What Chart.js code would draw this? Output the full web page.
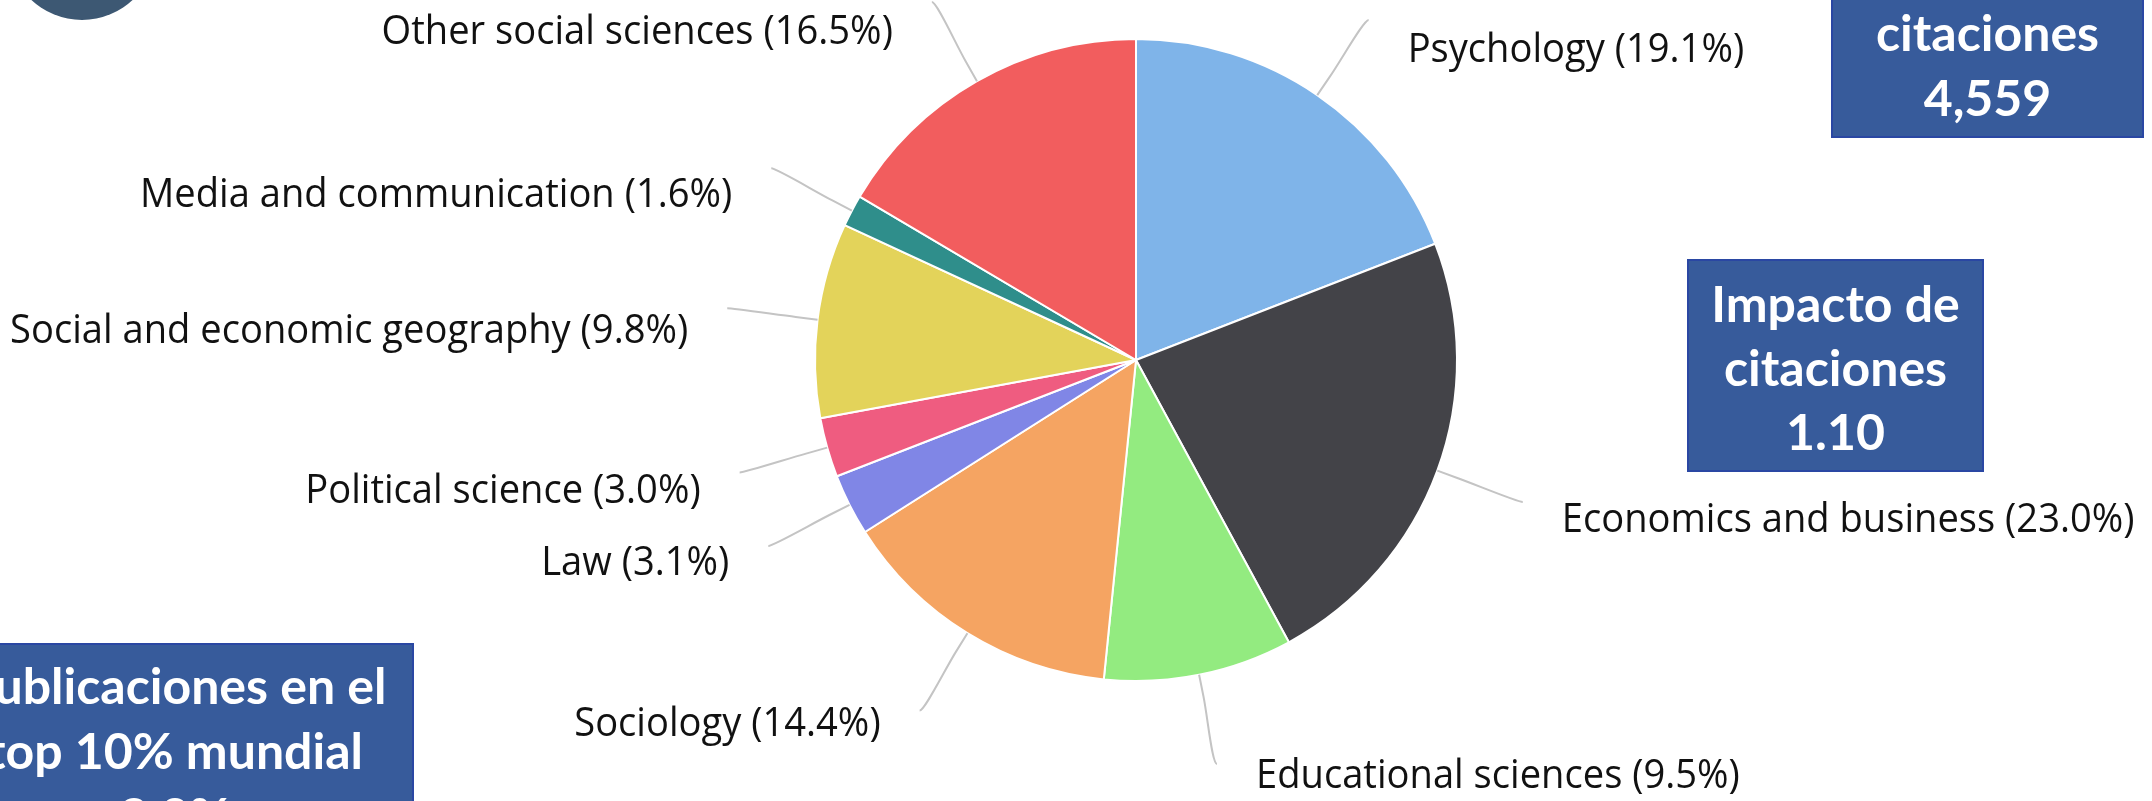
<!DOCTYPE html>
<html>
<head>
<meta charset="utf-8">
<title>Publicaciones por área</title>
<script src="https://cdn.jsdelivr.net/npm/chart.js@4.4.0/dist/chart.umd.min.js"></script>
<style>
    html, body { margin: 0; padding: 0; background: #fff; overflow: hidden; }
    #lienzo { position: relative; width: 2152px; height: 801px; overflow: hidden; }
    #grafico { position: absolute; left: 0; top: 0; }
    .circulo {
        position: absolute; left: 8px; top: -128px;
        width: 148px; height: 148px; border-radius: 50%;
        background: #3d5873;
    }
    .caja {
        position: absolute; box-sizing: border-box;
        background: #375b9b; border: 2px solid #2a47a3;
        color: #fff; font-family: Lato, "Open Sans", sans-serif;
        font-weight: 700; font-size: 50px; text-align: center;
        white-space: nowrap;
    }
</style>
</head>
<body>
<div id="lienzo">
    <canvas id="grafico" width="2152" height="801"></canvas>
    <div class="circulo"></div>
    <div class="caja" style="left:1831px; top:-12px; width:313px; height:150px; padding-top:9.5px; line-height:65px;">citaciones<br>4,559</div>
    <div class="caja" style="left:1687px; top:259px; width:297px; height:213px; padding-top:10px; line-height:64px;">Impacto de<br>citaciones<br>1.10</div>
    <div class="caja" style="left:-64px; top:643px; width:478px; height:230px; padding-top:7.5px; line-height:65px;">Publicaciones en el<br>top 10% mundial<br>8.0%</div>
</div>

<script>
const categorias = [
    'Psychology',
    'Economics and business',
    'Educational sciences',
    'Sociology',
    'Law',
    'Political science',
    'Social and economic geography',
    'Media and communication',
    'Other social sciences'
];
const porcentajes = [19.1, 23.0, 9.5, 14.4, 3.1, 3.0, 9.8, 1.6, 16.5];
const colores = ['#7fb4e9', '#434348', '#93eb80', '#f5a462', '#8086e6', '#ef5c80', '#e3d35a', '#2f8e8b', '#f25d5e'];

// etiquetas por fuera con su conector curvo
const etiquetasExternas = {
    id: 'etiquetasExternas',
    afterDatasetsDraw(chart) {
        const ctx = chart.ctx;
        const meta = chart.getDatasetMeta(0);
        const escalaX = 0.93;
        ctx.save();
        ctx.font = '41px "Open Sans"';
        ctx.textBaseline = 'middle';
        meta.data.forEach((arco, i) => {
            const p = arco.getProps(['x', 'y', 'startAngle', 'endAngle', 'outerRadius'], true);
            const medio = (p.startAngle + p.endAngle) / 2;
            const cos = Math.cos(medio);
            const sin = Math.sin(medio);
            const toque = { x: p.x + cos * p.outerRadius, y: p.y + sin * p.outerRadius };
            const quiebre = { x: p.x + cos * (p.outerRadius + 22), y: p.y + sin * (p.outerRadius + 22) };
            const fin = { x: p.x + cos * (p.outerRadius + 91), y: p.y + sin * (p.outerRadius + 91) };
            const derecha = cos >= 0;

            ctx.beginPath();
            ctx.moveTo(fin.x, fin.y);
            ctx.bezierCurveTo(
                fin.x + (derecha ? -5 : 5), fin.y,
                2 * quiebre.x - toque.x, 2 * quiebre.y - toque.y,
                quiebre.x, quiebre.y
            );
            ctx.lineTo(toque.x, toque.y);
            ctx.strokeStyle = '#c4c4c4';
            ctx.lineWidth = 2;
            ctx.stroke();

            const texto = categorias[i] + ' (' + porcentajes[i].toFixed(1) + '%)';
            const tx = fin.x + (derecha ? 39 : -39);
            const ty = fin.y + 22 - 10 * sin;
            ctx.save();
            ctx.translate(tx, ty);
            ctx.scale(escalaX, 1);
            ctx.textAlign = derecha ? 'left' : 'right';
            ctx.fillStyle = '#111';
            ctx.fillText(texto, 0, 0);
            ctx.restore();
        });
        ctx.restore();
    }
};

new Chart(document.getElementById('grafico'), {
    type: 'pie',
    data: {
        labels: categorias,
        datasets: [{
            data: porcentajes,
            backgroundColor: colores,
            borderColor: '#ffffff',
            borderWidth: 2
        }]
    },
    options: {
        responsive: false,
        animation: false,
        layout: { padding: { left: 814, right: 694, top: 38, bottom: 119 } },
        plugins: {
            legend: { display: false },
            tooltip: { enabled: false }
        }
    },
    plugins: [etiquetasExternas]
});
</script>
</body>
</html>
